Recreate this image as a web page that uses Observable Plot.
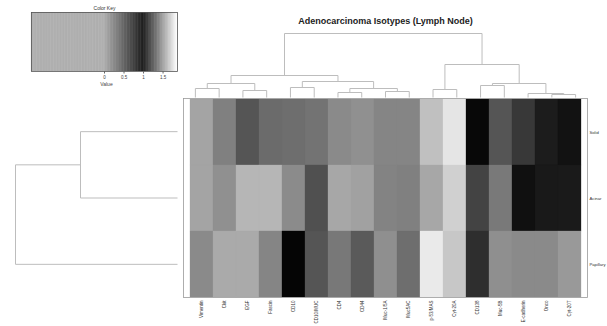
<!DOCTYPE html>
<html><head><meta charset="utf-8">
<script src="https://cdn.jsdelivr.net/npm/d3@7"></script>
<script src="https://cdn.jsdelivr.net/npm/@observablehq/plot@0.6"></script>
<style>
body{margin:0;background:#fff;}
#wrap{position:relative;width:607px;height:326px;font-family:"Liberation Sans",Arial,sans-serif;overflow:hidden;}
#wrap > svg{position:absolute;left:0;top:0;}
</style></head><body><div id="wrap"></div>
<script>
const title = "Adenocarcinoma Isotypes (Lymph Node)";
const columns = ["Vimentin","Ckit","EGF","Fascin","CD10","CD10/MUC","CD4","CD44","Muc-1/5A","Muc5AC","p-53/MAS","Cyt-20A","CD138","Muc-5B","E-cadherin","Onco","Cyt-20T"];
const rows = ["Solid","Acinar","Papillary"];
const solid     = [-0.4,0.22,0.48,0.35,0.33,0.30,0.16,0.12,0.19,0.19,1.655,1.78,0.95,0.48,0.66,0.83,0.89];
const acinar    = [-0.5,0.12,1.62,1.62,0.15,0.51,1.57,0.02,0.20,0.22,1.57,1.71,0.59,0.26,0.90,0.85,0.84];
const papillary = [0.16,1.58,1.58,0.19,0.97,0.48,0.27,0.45,0.13,0.33,1.80,1.68,0.72,0.13,0.16,0.16,0.07];
// hclust-style merges: negative = leaf (1-based), positive = earlier merge; third = height
const colMerges = [[-1,-2,9],[-3,-4,7],[1,2,14],[-5,-6,10],[-7,-8,5],[-9,-10,6],[5,6,9],[4,7,16],[3,8,22],
  [-11,-12,8],[-13,-14,12],[-16,-17,3],[-15,12,4],[11,13,14],[10,14,33],[9,15,64]];
const rowMerges = [[-1,-2,97],[1,-3,162]];
const keyTicks = [0,0.5,1,1.5];
const colorDomain = [-1.87,0,1,1.87];
const colorRange = ["#a4a4a4","#a4a4a4","#000000","#ffffff"];
const valueLabelAt = 0.05;

const matrix = [solid, acinar, papillary];
const cells = rows.flatMap((r,ri)=>columns.map((c,ci)=>({row:r,col:c,value:matrix[ri][ci]})));
const colorOpts = {type:"linear", domain:colorDomain, range:colorRange, interpolate:"rgb"};

function dendroSegments(merges){
  const pos=[], hgt=[], segs=[];
  const info = k => k<0 ? {p:-k-1,h:0} : {p:pos[k-1],h:hgt[k-1]};
  merges.forEach(([a,b,h],i)=>{
    const A=info(a), B=info(b);
    segs.push({p1:A.p,h1:A.h,p2:A.p,h2:h});
    segs.push({p1:B.p,h1:B.h,p2:B.p,h2:h});
    segs.push({p1:A.p,h1:h,p2:B.p,h2:h});
    pos[i]=(A.p+B.p)/2; hgt[i]=h;
  });
  return segs;
}
const wrap = document.getElementById("wrap");
const add = svg => { wrap.appendChild(svg); };
const transparent = {background:"transparent", fontFamily:"Liberation Sans, Arial, sans-serif"};

// heatmap
add(Plot.plot({
  width:607, height:326, marginLeft:183, marginRight:20, marginTop:98, marginBottom:29,
  style:transparent,
  x:{domain:columns, padding:0},
  y:{domain:rows, padding:0},
  color:colorOpts,
  marks:[
    Plot.cell(cells,{x:"col",y:"row",fill:"value",stroke:"value",strokeWidth:0.3,inset:0}),
    Plot.frame({stroke:"#999",strokeWidth:0.8}),
    Plot.axisX({anchor:"bottom",tickRotate:-90,tickSize:0,tickPadding:3,fontSize:4.5,label:null,fill:"#333"}),
    Plot.axisY({anchor:"right",tickSize:0,tickPadding:2,fontSize:4.2,label:null,fill:"#333"}),
    Plot.text([title],{frameAnchor:"top",dy:-81,fontWeight:"bold",fontSize:9,fill:"#222"})
  ]
}));

// column dendrogram
add(Plot.plot({
  width:607, height:326, margin:0, style:transparent,
  x:{domain:[-0.5,columns.length-0.5], range:[183,587], axis:null},
  y:{domain:[0,d3.max(colMerges,d=>d[2])], range:[97,33], axis:null},
  marks:[Plot.link(dendroSegments(colMerges),{x1:"p1",y1:"h1",x2:"p2",y2:"h2",stroke:"#bdbdbd",strokeWidth:1})]
}));

// row dendrogram
add(Plot.plot({
  width:607, height:326, margin:0, style:transparent,
  y:{domain:[-0.5,rows.length-0.5], range:[98,297], axis:null},
  x:{domain:[0,d3.max(rowMerges,d=>d[2])], range:[177,15], axis:null},
  marks:[Plot.link(dendroSegments(rowMerges),{y1:"p1",x1:"h1",y2:"p2",x2:"h2",stroke:"#bdbdbd",strokeWidth:1})]
}));

// color key
const N = 240, step = (colorDomain[3]-colorDomain[0])/N;
const keySteps = d3.range(N).map(i => colorDomain[0] + (i+0.5)*step);
add(Plot.plot({
  width:200, height:92, marginLeft:31, marginRight:23, marginTop:12, marginBottom:21,
  style:transparent,
  x:{domain:[colorDomain[0],colorDomain[3]]},
  y:{domain:[0,1], axis:null},
  color:colorOpts,
  marks:[
    Plot.rect(keySteps,{x1:d=>d-step/2-0.002,x2:d=>d+step/2+0.002,y1:0,y2:1,fill:d=>d}),
    Plot.frame({stroke:"#555",strokeWidth:0.8}),
    Plot.axisX(keyTicks,{anchor:"bottom",tickSize:2.5,tickPadding:2,fontSize:4.5,label:null,fill:"#444",stroke:"#666",tickFormat:d=>String(d)}),
    Plot.text(["Value"],{x:()=>valueLabelAt,frameAnchor:"bottom",dy:14,fontSize:5,fill:"#444"}),
    Plot.text(["Color Key"],{frameAnchor:"top",dy:-6,fontSize:5,fill:"#333"})
  ]
}));
</script></body></html>
